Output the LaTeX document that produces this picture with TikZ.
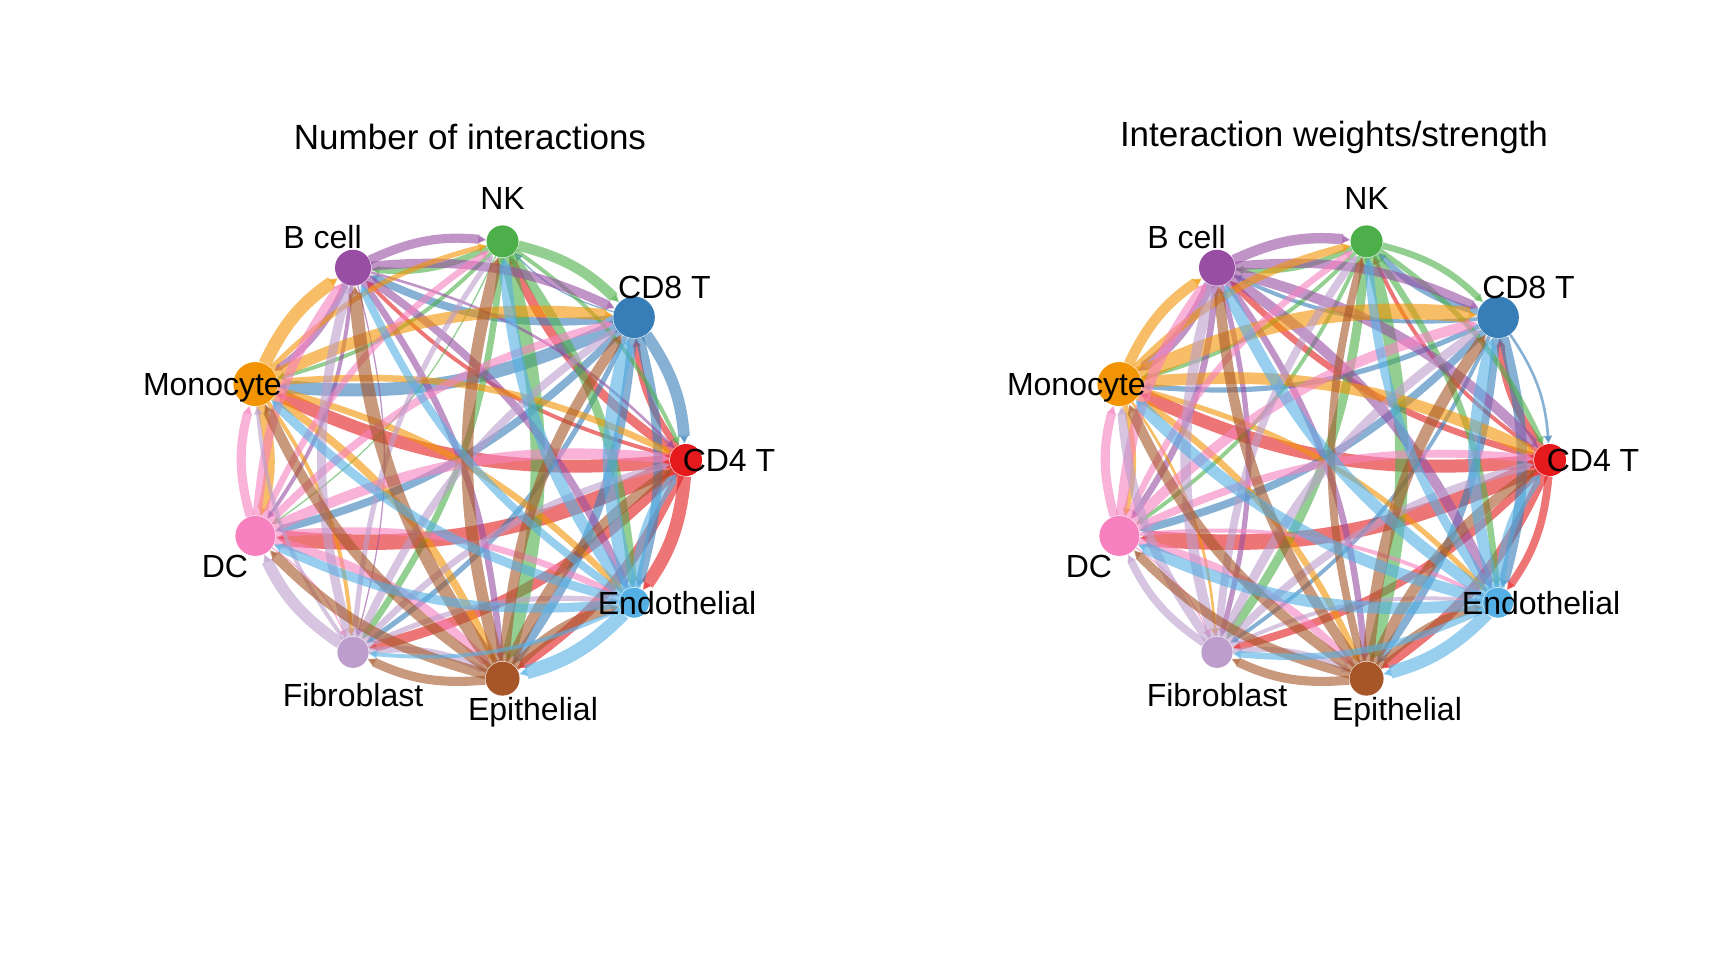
\documentclass[tikz,border=0pt]{standalone}
\usepackage{fontspec}
\setmainfont{Liberation Sans}
\usetikzlibrary{arrows.meta,backgrounds,calc}
\definecolor{c1}{HTML}{E41A1C}
\definecolor{c2}{HTML}{377EB8}
\definecolor{c3}{HTML}{4DAF4A}
\definecolor{c4}{HTML}{984EA3}
\definecolor{c5}{HTML}{F29403}
\definecolor{c6}{HTML}{F781BF}
\definecolor{c7}{HTML}{BC9DCC}
\definecolor{c8}{HTML}{A65628}
\definecolor{c9}{HTML}{54B0E4}
\tikzset{
	cell/.style={circle,inner sep=0pt,minimum size=#1},
	lbl/.style={font=\fontsize{16}{18}\selectfont,anchor=base,inner sep=0pt},
	ttl/.style={font=\fontsize{17.5}{20}\selectfont,anchor=base,inner sep=0pt},
	link/.style={opacity=0.6,bend left=15,-{Triangle[length=4pt,width=4pt]}},
}
% #1 prefix, #2 centre x, #3 edge widths (rows = sources)
\newcommand{\netcircle}[3]{%
	\foreach \n/\ang/\sz/\la/\txt in {1/0/16/0/CD4 T,2/40/20.8/45/CD8 T,3/80/16/90/NK,4/120/18/135/B cell,5/160/22/180/Monocyte,6/200/20/225/DC,7/240/15.6/270/Fibroblast,8/280/17/315/Epithelial,9/320/15/0/Endothelial}{
		\node[cell=\sz pt,fill=c\n] (#1\n) at ($(#2pt,250pt)+(\ang:111pt)$) {};
		\node[lbl] (#1\n-lbl) at ($(#1\n)+(\la:21.5pt)+(0,-5.75pt)$) {\txt};
	}
	\begin{scope}[on background layer]
		\foreach \row [count=\i] in {#3}
			\foreach \w [count=\j] in \row {
				\ifnum\i=\j\else\draw[link,color=c\i,line width=\w*0.65pt] (#1\i) to (#1\j);\fi
			}
	\end{scope}
}
\begin{document}
\begin{tikzpicture}
	\begin{scope}[on background layer]
		\fill[white] (0,0) rectangle (864pt,480pt);
	\end{scope}
	\path[use as bounding box] (0,0) rectangle (864pt,480pt);
	\node[ttl] (Lttl) at (235pt,405pt) {Number of interactions};
	\node[ttl] (Rttl) at (667pt,406.6pt) {Interaction weights/strength};
	\netcircle{L}{232}{{0,5,7,3,10,12,8,8,10},{9,0,1,6,10,6,4,7,7},{3,8,0,5,3,1,5,11,7},{2,7,7,0,5,3,1,5,6},{5,9,4,10,0,8,3,6,5},{8,6,5,7,7,0,1,7,5},{5,6,4,7,3,9,0,5,4},{8,8,9,10,8,8,7,0,8},{8,11,9,6,7,7,3,11,0}}
	\netcircle{R}{664}{{0,6,3,5,10,12,6,8,6},{2,0,5,3,4,6,3,6,8},{4,5,0,4,3,3,7,10,5},{8,7,8,0,8,5,4,5,8},{9,12,6,8,0,4,2,5,4},{6,8,5,8,7,0,1,6,3},{6,7,6,8,7,6,0,4,3},{8,9,6,8,8,7,7,0,6},{8,9,7,9,9,9,5,10,0}}
\end{tikzpicture}
\end{document}
